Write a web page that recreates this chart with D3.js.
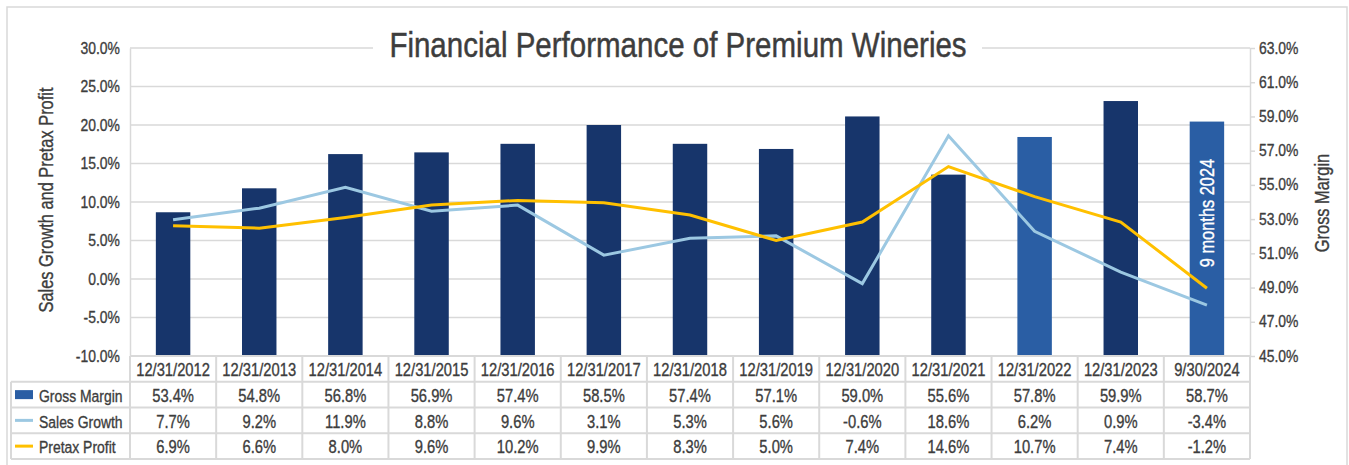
<!DOCTYPE html>
<html>
<head>
<meta charset="utf-8">
<script src="https://cdn.jsdelivr.net/npm/d3@7"></script>
<style>
  body { margin: 0; background: #fff; }
  text { font-family: "Liberation Sans", Arial, sans-serif; fill: #3d3d3d; stroke: #3d3d3d; stroke-width: 0.35px; }
  text.note { fill: #fff; stroke: #fff; }
</style>
</head>
<body>
<div id="chart"></div>
<script>
// data
var categories = ['12/31/2012', '12/31/2013', '12/31/2014', '12/31/2015', '12/31/2016', '12/31/2017',
    '12/31/2018', '12/31/2019', '12/31/2020', '12/31/2021', '12/31/2022', '12/31/2023', '9/30/2024'];
var grossMargin = [53.4, 54.8, 56.8, 56.9, 57.4, 58.5, 57.4, 57.1, 59.0, 55.6, 57.8, 59.9, 58.7];
var salesGrowth = [7.7, 9.2, 11.9, 8.8, 9.6, 3.1, 5.3, 5.6, -0.6, 18.6, 6.2, 0.9, -3.4];
var pretaxProfit = [6.9, 6.6, 8.0, 9.6, 10.2, 9.9, 8.3, 5.0, 7.4, 14.6, 10.7, 7.4, -1.2];
var lightBars = ['12/31/2022', '9/30/2024'];
var leftTicks = [-10, -5, 0, 5, 10, 15, 20, 25, 30];
var rightTicks = [45, 47, 49, 51, 53, 55, 57, 59, 61, 63];
var seriesNames = ['Gross Margin', 'Sales Growth', 'Pretax Profit'];

// no narrow face installed, so squeeze the regular one
var SQUEEZE = 0.82;

function pct(d) {
    return d3.format('.1f')(d).replace('\u2212', '-') + '%';
}

function condense(sel) {
    sel.each(function () {
        var t = d3.select(this);
        var x = +t.attr('x') || 0;
        var y = +t.attr('y') || 0;
        t.attr('x', 0).attr('y', 0)
            .attr('transform', 'translate(' + x + ',' + y + ') scale(' + SQUEEZE + ',1)');
    });
}

function main(domSelector) {
    var width = 1349;
    var height = 465;
    var plot = {left: 130, right: 1250, top: 48, bottom: 356};
    var rowH = 25.75;

    var colors = {
        dark: '#17356b',
        light: '#2a5ea4',
        sales: '#9cc8e2',
        profit: '#ffc000',
        grid: '#d9d9d9'
    };

    var svg = d3.select(domSelector).append('svg')
        .attr('width', width)
        .attr('height', height);

    // outer frame
    svg.append('rect')
        .attr('x', 7).attr('y', 7)
        .attr('width', 1340).attr('height', 460)
        .attr('fill', 'none')
        .attr('stroke', colors.grid)
        .attr('stroke-width', 1.5);

    var xCol = d3.scaleBand().domain(categories).range([plot.left, plot.right]);
    var xBar = d3.scaleBand().domain(categories).range([plot.left, plot.right])
        .paddingInner(0.6).paddingOuter(0.3);
    var yLeft = d3.scaleLinear().domain([-10, 30]).range([plot.bottom, plot.top]);
    var yRight = d3.scaleLinear().domain([45, 63]).range([plot.bottom, plot.top]);

    // gridlines
    svg.append('g')
        .selectAll('line')
        .data(leftTicks)
        .enter()
        .append('line')
        .attr('x1', plot.left).attr('x2', plot.right)
        .attr('y1', function (d) { return yLeft(d); })
        .attr('y2', function (d) { return yLeft(d); })
        .attr('stroke', colors.grid)
        .attr('stroke-width', 1.5);

    // left axis
    var leftAxis = svg.append('g')
        .attr('transform', 'translate(' + plot.left + ',0)')
        .call(d3.axisLeft(yLeft).tickValues(leftTicks).tickSize(0).tickPadding(10)
            .tickFormat(pct));
    leftAxis.select('.domain').attr('stroke', colors.grid).attr('stroke-width', 1.5);
    leftAxis.selectAll('text').style('font-size', '17px').attr('fill', null)
        .attr('dy', '0.3em').call(condense);

    // right axis
    var rightAxis = svg.append('g')
        .attr('transform', 'translate(' + plot.right + ',0)')
        .call(d3.axisRight(yRight).tickValues(rightTicks).tickSize(5).tickSizeOuter(0).tickPadding(4)
            .tickFormat(pct));
    rightAxis.select('.domain').attr('stroke', colors.grid).attr('stroke-width', 1.5);
    rightAxis.selectAll('.tick line').attr('stroke', colors.grid).attr('stroke-width', 1.5);
    rightAxis.selectAll('text').style('font-size', '17px').attr('fill', null)
        .attr('dy', '0.3em').call(condense);

    // bars
    svg.append('g')
        .selectAll('rect')
        .data(categories)
        .enter()
        .append('rect')
        .attr('x', function (d) { return xBar(d); })
        .attr('width', xBar.bandwidth())
        .attr('y', function (d, i) { return yRight(grossMargin[i]); })
        .attr('height', function (d, i) { return plot.bottom - yRight(grossMargin[i]); })
        .attr('fill', function (d) { return lightBars.indexOf(d) >= 0 ? colors.light : colors.dark; });

    // note inside the last bar
    var last = categories[categories.length - 1];
    var noteX = xBar(last) + xBar.bandwidth() / 2;
    svg.append('text')
        .attr('class', 'note')
        .attr('transform', 'translate(' + (noteX + 7) + ',213) rotate(-90) scale(' + SQUEEZE + ',1)')
        .attr('text-anchor', 'middle')
        .style('font-size', '20px')
        .text('9 months 2024');

    // lines
    var line = d3.line()
        .x(function (d, i) { return xCol(categories[i]) + xCol.bandwidth() / 2; })
        .y(function (d) { return yLeft(d); });

    svg.append('path')
        .datum(salesGrowth)
        .attr('d', line)
        .attr('fill', 'none')
        .attr('stroke', colors.sales)
        .attr('stroke-width', 3);

    svg.append('path')
        .datum(pretaxProfit)
        .attr('d', line)
        .attr('fill', 'none')
        .attr('stroke', colors.profit)
        .attr('stroke-width', 3);

    // title with white backing over the top gridline
    svg.append('rect')
        .attr('x', 373).attr('y', 20)
        .attr('width', 609).attr('height', 50)
        .attr('fill', '#fff');
    svg.append('text')
        .attr('x', 678).attr('y', 57)
        .attr('text-anchor', 'middle')
        .style('font-size', '36px')
        .style('stroke-width', '0.5px')
        .text('Financial Performance of Premium Wineries')
        .call(condense);

    // axis titles
    svg.append('text')
        .attr('transform', 'translate(53,200) rotate(-90) scale(' + SQUEEZE + ',1)')
        .attr('text-anchor', 'middle')
        .style('font-size', '20px')
        .text('Sales Growth and Pretax Profit');
    svg.append('text')
        .attr('transform', 'translate(1329,203) rotate(-90) scale(' + SQUEEZE + ',1)')
        .attr('text-anchor', 'middle')
        .style('font-size', '20px')
        .text('Gross Margin');

    // data table
    var table = svg.append('g');
    var tableTop = plot.bottom;
    var rowsTop = tableTop + rowH;
    var tableBottom = rowsTop + 3 * rowH;

    // horizontal rules
    [rowsTop, rowsTop + rowH, rowsTop + 2 * rowH, tableBottom].forEach(function (y) {
        table.append('line')
            .attr('x1', 11).attr('x2', plot.right)
            .attr('y1', y).attr('y2', y)
            .attr('stroke', colors.grid).attr('stroke-width', 2);
    });
    table.append('line')
        .attr('x1', 11).attr('x2', 11)
        .attr('y1', rowsTop).attr('y2', tableBottom)
        .attr('stroke', colors.grid).attr('stroke-width', 2);
    table.selectAll('line.col')
        .data(categories.concat(['end']))
        .enter()
        .append('line')
        .attr('class', 'col')
        .attr('x1', function (d) { return d === 'end' ? plot.right : xCol(d); })
        .attr('x2', function (d) { return d === 'end' ? plot.right : xCol(d); })
        .attr('y1', tableTop).attr('y2', tableBottom)
        .attr('stroke', colors.grid).attr('stroke-width', 2);
    table.append('line')
        .attr('x1', plot.left).attr('x2', plot.right)
        .attr('y1', tableTop).attr('y2', tableTop)
        .attr('stroke', colors.grid).attr('stroke-width', 2);

    // header row
    table.selectAll('text.head')
        .data(categories)
        .enter()
        .append('text')
        .attr('class', 'head')
        .attr('x', function (d) { return xCol(d) + xCol.bandwidth() / 2; })
        .attr('y', tableTop + 20)
        .attr('text-anchor', 'middle')
        .style('font-size', '18px')
        .text(function (d) { return d; })
        .call(condense);

    var rows = [grossMargin, salesGrowth, pretaxProfit];
    rows.forEach(function (vals, r) {
        var baseY = rowsTop + r * rowH + 20;
        table.selectAll('text.r' + r)
            .data(vals)
            .enter()
            .append('text')
            .attr('class', 'r' + r)
            .attr('x', function (d, i) { return xCol(categories[i]) + xCol.bandwidth() / 2; })
            .attr('y', baseY)
            .attr('text-anchor', 'middle')
            .style('font-size', '18px')
            .text(pct)
            .call(condense);

        table.append('text')
            .attr('x', 39).attr('y', baseY)
            .style('font-size', '17px')
            .text(seriesNames[r])
            .call(condense);
    });

    // legend keys
    var keyY = function (r) { return rowsTop + r * rowH + rowH / 2; };
    table.append('rect')
        .attr('x', 15).attr('y', keyY(0) - 4.5)
        .attr('width', 18).attr('height', 9)
        .attr('fill', colors.light);
    table.append('line')
        .attr('x1', 15).attr('x2', 33)
        .attr('y1', keyY(1)).attr('y2', keyY(1))
        .attr('stroke', colors.sales).attr('stroke-width', 3);
    table.append('line')
        .attr('x1', 15).attr('x2', 33)
        .attr('y1', keyY(2)).attr('y2', keyY(2))
        .attr('stroke', colors.profit).attr('stroke-width', 3);
}

main('#chart');
</script>
</body>
</html>
